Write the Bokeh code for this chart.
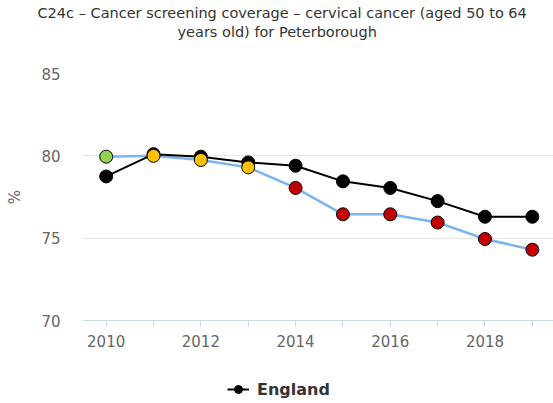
from bokeh.plotting import figure
from bokeh.layouts import column
from bokeh.models import Title, Legend, LegendItem, FixedTicker, Range1d
from bokeh.embed import file_html
from bokeh.resources import INLINE

years = [2010, 2011, 2012, 2013, 2014, 2015, 2016, 2017, 2018, 2019]
england = [78.75, 80.1, 79.95, 79.6, 79.4, 78.45, 78.05, 77.25, 76.3, 76.3]
peterborough = [79.95, 80.0, 79.75, 79.3, 78.05, 76.45, 76.45, 75.95, 74.95, 74.3]
pb_colors = ["#92d050", "#ffc000", "#ffc000", "#ffc000", "#c00000",
             "#c00000", "#c00000", "#c00000", "#c00000", "#c00000"]
y_ticks = [70, 75, 80, 85]
x_tick_labels = {2010: "2010", 2011: "", 2012: "2012", 2013: "", 2014: "2014",
                 2015: "", 2016: "2016", 2017: "", 2018: "2018", 2019: ""}
title_lines = ["C24c – Cancer screening coverage – cervical cancer (aged 50 to 64",
               "years old) for Peterborough"]

FONT = "DejaVu Sans"
W = 553
LEG_H = 30
H = 403 - LEG_H
FL, FT, FB = 82, 73, 320   # frame left / top / bottom in px

p = figure(width=W, height=H, output_backend="svg", toolbar_location=None,
           x_range=Range1d(2009.5, 2019.447), y_range=Range1d(70, 85),
           min_border_left=FL, min_border_right=0, min_border_top=FT,
           min_border_bottom=H - FB, background_fill_color="white",
           border_fill_color="white")
p.outline_line_color = None

# title: spacer nearest the plot, then line 2, then line 1
p.add_layout(Title(text=" ", text_font=FONT, text_font_size="1px", standoff=30),
             "above")
p.add_layout(Title(text=title_lines[1], align="left", offset=95, standoff=1,
                   text_font=FONT, text_font_size="14.5px", text_color="#333333",
                   text_font_style="normal"), "above")
p.add_layout(Title(text=title_lines[0], align="left", offset=-45, standoff=1,
                   text_font=FONT, text_font_size="14.5px", text_color="#333333",
                   text_font_style="normal"), "above")

# grid
p.xgrid.grid_line_color = None
p.ygrid.grid_line_color = "#e6e6e6"
p.ygrid.ticker = FixedTicker(ticks=y_ticks)

# y axis
p.yaxis.ticker = FixedTicker(ticks=y_ticks)
p.yaxis.axis_line_color = None
p.yaxis.major_tick_line_color = None
p.yaxis.minor_tick_line_color = None
p.yaxis.major_label_text_font = FONT
p.yaxis.major_label_text_font_size = "15px"
p.yaxis.major_label_text_color = "#666666"
p.yaxis.major_label_standoff = 16
p.yaxis.axis_label = "%"
p.yaxis.axis_label_text_font = FONT
p.yaxis.axis_label_text_font_size = "15px"
p.yaxis.axis_label_text_font_style = "normal"
p.yaxis.axis_label_text_color = "#666666"
p.yaxis.axis_label_standoff = 14

# x axis
p.xaxis.ticker = FixedTicker(ticks=years)
p.xaxis.major_label_overrides = x_tick_labels
p.xaxis.axis_line_color = "#ccd6eb"
p.xaxis.major_tick_line_color = "#ccd6eb"
p.xaxis.major_tick_out = 6
p.xaxis.major_tick_in = 0
p.xaxis.minor_tick_line_color = None
p.xaxis.major_label_text_font = FONT
p.xaxis.major_label_text_font_size = "15px"
p.xaxis.major_label_text_color = "#666666"
p.xaxis.major_label_standoff = 8

# series
p.line(years, peterborough, line_color="#7cb5ec", line_width=2.5)
p.line(years, england, line_color="black", line_width=2)
p.scatter(years, england, size=13, fill_color="black", line_color="black",
          line_width=1)
p.scatter(years, peterborough, size=13, fill_color=pb_colors, line_color="black",
          line_width=1)

# legend strip (separate small figure so it is not clipped)
lf = figure(width=W, height=LEG_H, output_backend="svg", toolbar_location=None,
            x_range=Range1d(0, 1), y_range=Range1d(0, 1),
            x_axis_type=None, y_axis_type=None,
            min_border_left=0, min_border_right=0, min_border_top=0,
            min_border_bottom=0, background_fill_color="white",
            border_fill_color="white")
lf.outline_line_color = None
lf.grid.visible = False
leg_line = lf.line(years, england, line_color="black", line_width=2)
leg_pts = lf.scatter(years, england, size=13, fill_color="black",
                     line_color="black", line_width=1)
legend = Legend(items=[LegendItem(label="England", renderers=[leg_line, leg_pts])],
                orientation="horizontal", location=(145, 4),
                label_text_font=FONT, label_text_font_size="16px",
                label_text_font_style="bold", label_text_color="#333333",
                glyph_width=22, glyph_height=20, label_standoff=8,
                border_line_color=None, background_fill_alpha=0,
                margin=0, padding=4)
lf.add_layout(legend, "center")

layout = column(p, lf, spacing=0)
open("out.html", "w").write(file_html(layout, INLINE))
